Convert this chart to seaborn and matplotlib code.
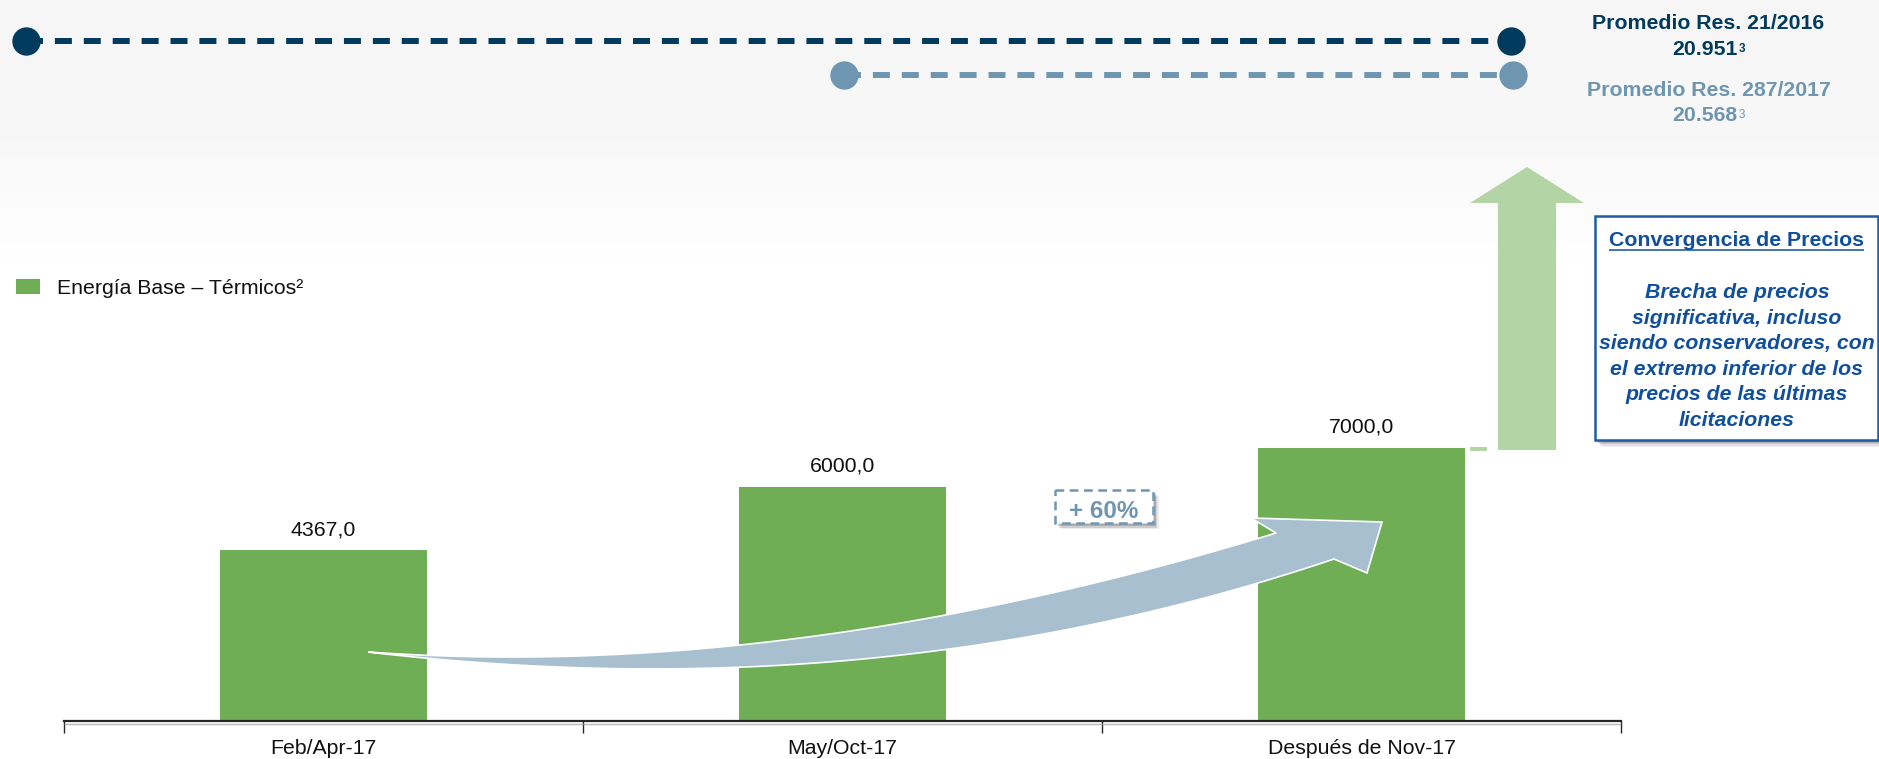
import numpy as np
import pandas as pd
import matplotlib
matplotlib.use("Agg")
import matplotlib.pyplot as plt
from matplotlib.patches import Rectangle, Polygon
import seaborn as sns

# ---- data -------------------------------------------------------------
periods = ["Feb/Apr-17", "May/Oct-17", "Después de Nov-17"]
base_energy = [4367.0, 6000.0, 7000.0]
series_label = "Energía Base – Térmicos²"

ref_labels = ["Promedio Res. 21/2016", "Promedio Res. 287/2017"]
ref_values = ["20.951", "20.568"]
ref_note = "3"

growth_label = "+ 60%"
note_title = "Convergencia de Precios"
note_lines = [
    "Brecha de precios",
    "significativa, incluso",
    "siendo conservadores, con",
    "el extremo inferior de los",
    "precios de las últimas",
    "licitaciones",
]

# ---- style ------------------------------------------------------------
W, H, DPI = 1879, 759, 100
GREEN = "#6fae54"
LIGHT_GREEN = "#b3d4a5"
NAVY = "#003a5c"
STEEL = "#6f96b0"
ARROW_BLUE = "#a7bfcf"
NOTE_BLUE = "#0f4f9e"
NOTE_EDGE = "#1f5ba8"
FS = 15.3

sns.set_style("white")
plt.rcParams["font.family"] = ["Liberation Sans", "DejaVu Sans"]
plt.rcParams["text.color"] = "#111111"

fig = plt.figure(figsize=(W / DPI, H / DPI), dpi=DPI)

# soft grey band behind the reference lines
bg = fig.add_axes([0, 0, 1, 1], zorder=0)
rows = np.arange(H)
level = np.interp(rows, [0, 140, 260, H], [246, 248, 255, 255]) / 255.0
grad = np.repeat(level[:, None], 3, axis=1)[:, None, :]
bg.imshow(grad, extent=[0, W, H, 0], aspect="auto", interpolation="bilinear")
bg.set_xlim(0, W)
bg.set_ylim(H, 0)
bg.axis("off")

# ---- bars -------------------------------------------------------------
ax = fig.add_axes([64 / W, (H - 721) / H, 1557 / W, 468.75 / H], zorder=1)
ax.patch.set_alpha(0)
df = pd.DataFrame({"periodo": periods, "valor": base_energy})
sns.barplot(data=df, x="periodo", y="valor", order=periods, color=GREEN,
            saturation=1, width=0.4, linewidth=0, errorbar=None, ax=ax,
            label=series_label)
ax.set_xlim(-0.5, 2.5)
ax.set_ylim(0, 12000)
ax.set_xlabel("")
ax.set_ylabel("")
ax.set_yticks([])
for side in ("left", "top", "right"):
    ax.spines[side].set_visible(False)
ax.spines["bottom"].set_color("#262626")
ax.spines["bottom"].set_linewidth(1.6)
ax.set_xticks(range(len(periods)))
ax.set_xticklabels(periods)
ax.set_xticks(np.arange(len(periods) + 1) - 0.5, minor=True)
ax.tick_params(axis="x", which="major", length=0, pad=13, labelsize=FS,
               labelcolor="#111111")
ax.tick_params(axis="x", which="minor", length=8.6, width=1, color="#262626",
               direction="out", bottom=True)

bars = ax.containers[0]
ax.bar_label(bars, labels=[f"{v:.1f}".replace(".", ",") for v in base_energy],
             padding=8, fontsize=FS, color="#111111")

ax.legend(loc="center left", bbox_to_anchor=(16 / W, (H - 288) / H),
          bbox_transform=fig.transFigure, frameon=False, fontsize=FS,
          handlelength=24 / 21.3, handleheight=15 / 21.3,
          handletextpad=17 / 21.3, borderpad=0, borderaxespad=0)

# ---- annotation layer (pixel coordinates) -----------------------------
ov = fig.add_axes([0, 0, 1, 1], zorder=3)
ov.set_xlim(0, W)
ov.set_ylim(H, 0)
ov.axis("off")
ov.patch.set_alpha(0)

# faint shadow under the category axis
ov.plot([64, 1621], [723.5, 723.5], color="#9a9a9a", lw=1.0, alpha=0.7,
        solid_capstyle="butt")

# dashed reference lines with end dots
dash = (0, (2.84, 2.0))
ov.plot([26, 1511], [41, 41], color=NAVY, lw=4.3, ls=dash, dash_capstyle="butt")
ov.plot([26, 1511], [41, 41], ls="none", marker="o", ms=19.4, color=NAVY)
ov.plot([844, 1513], [75, 75], color=STEEL, lw=4.3, ls=dash, dash_capstyle="butt")
ov.plot([844, 1513], [75, 75], ls="none", marker="o", ms=19.4, color=STEEL)

ov.text(1708, 29, ref_labels[0], ha="center", va="baseline", fontsize=FS,
        fontweight="bold", color=NAVY)
t1 = ov.text(1705, 55, ref_values[0], ha="center", va="baseline", fontsize=FS,
             fontweight="bold", color=NAVY)
ov.annotate(ref_note, xy=(1, 1), xycoords=t1, xytext=(0.5, -2),
            textcoords="offset points", ha="left", va="top",
            fontsize=FS * 0.55, fontweight="bold", color=NAVY)
ov.text(1709, 96, ref_labels[1], ha="center", va="baseline", fontsize=FS,
        fontweight="bold", color=STEEL)
t2 = ov.text(1705, 121, ref_values[1], ha="center", va="baseline", fontsize=FS,
             fontweight="bold", color=STEEL)
ov.annotate(ref_note, xy=(1, 1), xycoords=t2, xytext=(0.5, -2),
            textcoords="offset points", ha="left", va="top",
            fontsize=FS * 0.55, color=STEEL)

# upward convergence arrow
ov.add_patch(Polygon([(1498, 450), (1498, 203), (1470, 203), (1527, 167),
                      (1584, 203), (1556, 203), (1556, 450)],
                     closed=True, fc=LIGHT_GREEN, ec="none"))
ov.add_patch(Rectangle((1470, 447), 17, 4, fc=LIGHT_GREEN, ec="none"))

# note box with shadow
for k, a in enumerate([0.05, 0.07, 0.10, 0.14]):
    off = 7 - k * 1.5
    ov.add_patch(Rectangle((1595 + off, 216 + off), 283, 224, fc="black",
                           ec="none", alpha=a))
ov.add_patch(Rectangle((1595, 216), 283, 224, fc="white", ec=NOTE_EDGE, lw=1.8))
tt = ov.text(1737, 246.5, note_title, ha="center", va="baseline", fontsize=FS,
             fontweight="bold", color=NOTE_BLUE)
for i, line in enumerate(note_lines):
    ov.text(1737, 298 + i * 25.6, line, ha="center", va="baseline",
            fontsize=FS, fontweight="bold", fontstyle="italic",
            color=NOTE_BLUE)

# curved growth arrow
def quad(p0, p1, p2, n=80):
    t = np.linspace(0, 1, n)[:, None]
    return (1 - t) ** 2 * np.array(p0) + 2 * (1 - t) * t * np.array(p1) + t ** 2 * np.array(p2)

upper = quad((368, 652), (790, 682), (1276, 533))
lower = quad((368, 652), (880, 712), (1334, 559))
head = np.array([(1251, 518), (1382, 522), (1367, 573)])
outline = np.vstack([upper, head, lower[::-1]])
ov.add_patch(Polygon(outline, closed=True, fc=ARROW_BLUE, ec="white", lw=1.2,
                     joinstyle="miter"))

# growth badge
for k, a in enumerate([0.08, 0.12, 0.16]):
    off = 6 - k * 1.5
    ov.add_patch(Rectangle((1055 + off, 490 + off), 98, 33, fc="black",
                           ec="none", alpha=a))
ov.add_patch(Rectangle((1055, 490), 98, 33, fc="white", ec=STEEL, lw=1.8,
                       ls=(0, (3.5, 2.2))))
ov.text(1104, 518, growth_label, ha="center", va="baseline", fontsize=17.5,
        fontweight="bold", color=STEEL)

# underline the note title to the width of its text
fig.canvas.draw()
bb = tt.get_window_extent().transformed(ov.transData.inverted())
x0, x1 = sorted([bb.x0, bb.x1])
ov.plot([x0, x1], [249.5, 249.5], color=NOTE_BLUE, lw=1.1, solid_capstyle="butt")

fig.savefig("out.png", dpi=DPI)
